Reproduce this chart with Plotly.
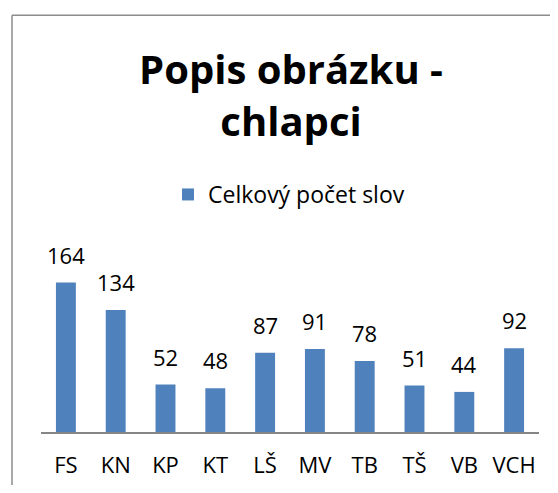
import plotly.graph_objects as go

categories = ["FS", "KN", "KP", "KT", "LŠ", "MV", "TB", "TŠ", "VB", "VCH"]
values = [164, 134, 52, 48, 87, 91, 78, 51, 44, 92]
series_name = "Celkový počet slov"
title_text = "<b>Popis obrázku -<br>chlapci</b>"

OFF = 8  # default page body margin offset
W, H = 558 - OFF, 493 - 2 * OFF
L = 41 - OFF
R = W - (539 - OFF)
B = H - (432 - OFF)
T = 267.5 - OFF
plot_w = W - L - R
plot_h = H - T - B

FONT = "Open Sans"
BAR_COLOR = "#4F81BD"

fig = go.Figure()
fig.add_trace(go.Bar(
    x=categories, y=values, name=series_name,
    marker=dict(color=BAR_COLOR, line=dict(width=0)),
    width=0.4, showlegend=True,
))

for c, v in zip(categories, values):
    fig.add_annotation(
        x=c, y=v, xref="x", yref="y", text=str(v), showarrow=False,
        yanchor="bottom", yshift=11,
        font=dict(family=FONT, size=22, color="#000000"),
    )

def px_to_paper_x(px):
    return (px - OFF - L) / plot_w

def px_to_paper_y(py):
    return (H - B - (py - OFF)) / plot_h

# outer chart frame (only left and top edges are visible in the crop)
frame = dict(color="#8C8C8C", width=1.5)
fig.add_shape(type="line", xref="paper", yref="paper",
              x0=px_to_paper_x(12), x1=px_to_paper_x(12),
              y0=px_to_paper_y(500), y1=px_to_paper_y(14), line=frame, layer="below")
fig.add_shape(type="line", xref="paper", yref="paper",
              x0=px_to_paper_x(12), x1=px_to_paper_x(570),
              y0=px_to_paper_y(14), y1=px_to_paper_y(14), line=frame, layer="below")

fig.update_layout(
    width=W, height=H,
    margin=dict(l=L, r=R, t=T, b=B, pad=0, autoexpand=False),
    paper_bgcolor="white", plot_bgcolor="white",
    title=dict(
        text=title_text, x=(291 - OFF) / W, xanchor="center", xref="container",
        y=1 - 76 / H, yanchor="top", yref="container",
        font=dict(family=FONT, size=40, color="#000000"),
    ),
    legend=dict(
        orientation="h", x=(289 - OFF) / W, xanchor="center", xref="container",
        y=1 - 165 / H, yanchor="top", yref="container",
        font=dict(family=FONT, size=23, color="#000000"),
        bgcolor="rgba(0,0,0,0)",
    ),
    bargap=0.6,
    xaxis=dict(
        showline=True, linecolor="#868686", linewidth=1.5,
        showgrid=False, zeroline=False, ticks="", ticklabelstandoff=13,
        tickfont=dict(family=FONT, size=22, color="#000000"),
        automargin=False,
    ),
    yaxis=dict(
        range=[0, 180], visible=False, showgrid=False, zeroline=False,
    ),
)

fig.write_html("out.html")
